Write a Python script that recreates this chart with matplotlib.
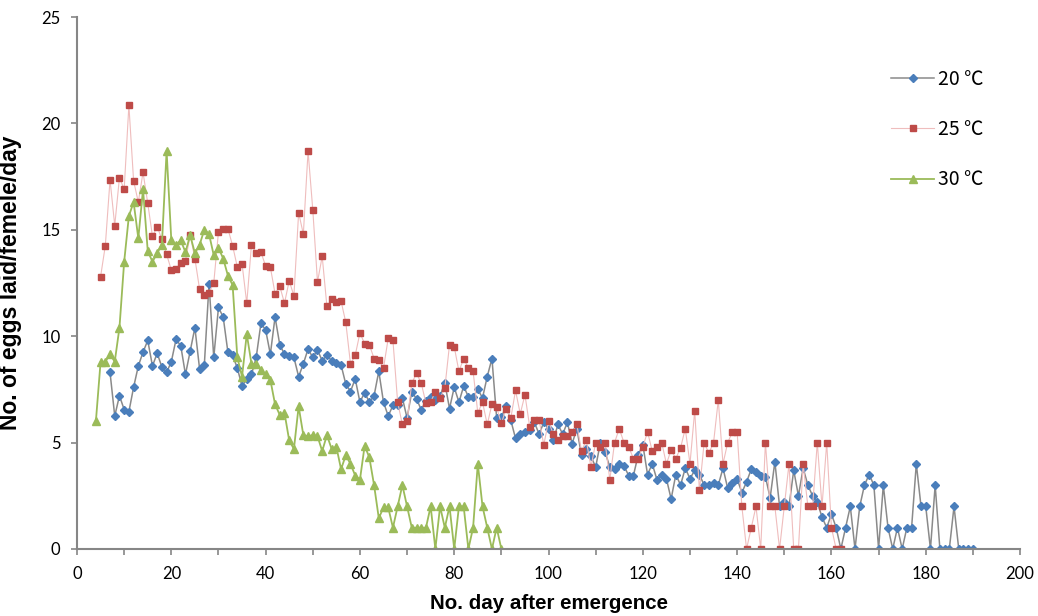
import numpy as np
import matplotlib
matplotlib.use('agg')
import matplotlib.pyplot as plt

# daily egg counts, one value per day starting at the first day listed
start_20 = 7
eggs_20 = [8.3, 6.25, 7.2, 6.55, 6.45, 7.6, 8.6, 9.25, 9.8, 8.6,
           9.2, 8.55, 8.3, 8.8, 9.85, 9.55, 8.2, 9.3, 10.4, 8.45,
           8.65, 12.45, 9.0, 11.35, 10.9, 9.25, 9.1, 8.5, 7.65, 8.0,
           8.2, 9.0, 10.6, 10.3, 9.15, 10.9, 9.6, 9.15, 9.05, 9.0,
           8.1, 8.7, 9.4, 9.0, 9.35, 8.85, 9.1, 8.85, 8.75, 8.65,
           7.75, 7.4, 8.0, 6.9, 7.35, 6.9, 7.2, 8.35, 6.9, 6.25,
           6.75, 6.75, 7.1, 6.15, 7.4, 7.05, 6.55, 6.95, 7.15, 7.0,
           7.2, 7.8, 6.6, 7.6, 6.9, 7.65, 7.15, 7.15, 7.5, 7.1,
           8.1, 8.95, 6.15, 6.2, 6.7, 6.05, 5.2, 5.4, 5.5, 5.6,
           5.95, 5.4, 5.95, 5.65, 5.1, 5.85, 5.4, 5.95, 4.95, 5.65,
           4.4, 4.7, 4.35, 3.85, 5.0, 4.55, 3.85, 3.75, 4.0, 3.9,
           3.45, 3.45, 4.4, 4.9, 3.5, 4.0, 3.25, 3.5, 3.3, 2.35,
           3.5, 3.0, 3.8, 3.3, 3.7, 3.5, 3.0, 3.0, 3.1, 3.0,
           3.8, 2.85, 3.1, 3.3, 2.65, 3.15, 3.75, 3.6, 3.45, 3.4,
           2.4, 4.1, 2.0, 2.2, 2.0, 3.7, 2.5, 3.8, 3.0, 2.5,
           2.2, 1.5, 1.0, 1.65, 1.0, 0, 1.0, 2.0, 0, 2.0,
           3.0, 3.5, 3.0, 0, 3.0, 1.0, 0, 1.0, 0, 1.0,
           1.0, 4.0, 2.0, 2.0, 0, 3.0, 0, 0, 0, 2.0,
           0, 0, 0, 0]

start_25 = 5
eggs_25 = [12.8, 14.25, 17.35, 15.2, 17.45, 16.9, 20.85, 17.3, 16.3, 17.7,
           16.25, 14.7, 15.15, 14.55, 13.85, 13.1, 13.15, 13.45, 13.55, 14.75,
           13.65, 12.2, 11.95, 12.05, 12.5, 14.9, 15.05, 15.05, 14.25, 13.25,
           13.4, 11.55, 14.3, 13.9, 13.95, 13.3, 13.25, 12.0, 12.35, 11.55,
           12.6, 11.9, 15.8, 14.8, 18.7, 15.95, 12.55, 13.75, 11.4, 11.75,
           11.6, 11.65, 10.65, 8.7, 9.1, 10.15, 9.65, 9.6, 8.95, 8.9,
           8.5, 9.9, 9.8, 6.9, 5.85, 6.0, 7.8, 8.25, 7.8, 6.85,
           6.9, 7.4, 7.1, 7.55, 9.6, 9.5, 8.35, 8.95, 8.5, 8.35,
           6.4, 6.9, 5.85, 6.8, 6.65, 5.9, 6.6, 6.15, 7.45, 6.35,
           7.25, 5.75, 6.05, 6.05, 4.9, 6.0, 5.4, 5.1, 5.3, 5.3,
           5.5, 5.85, 4.6, 5.1, 3.85, 5.0, 4.8, 5.0, 3.25, 5.0,
           5.65, 5.0, 4.8, 4.25, 4.25, 4.8, 5.5, 4.6, 4.8, 5.0,
           4.0, 4.65, 4.25, 4.75, 5.65, 4.0, 6.5, 2.75, 5.0, 4.5,
           5.0, 7.0, 4.0, 5.0, 5.5, 5.5, 2.0, 0, 1.0, 2.0,
           0, 5.0, 2.0, 2.0, 0, 2.0, 4.0, 0, 0, 4.0,
           2.0, 2.0, 5.0, 2.0, 5.0, 1.0, 0, 0]

start_30 = 4
eggs_30 = [6.0, 8.8, 8.8, 9.15, 8.8, 10.4, 13.5, 15.65, 16.3, 14.6,
           16.9, 14.0, 13.5, 13.9, 14.3, 18.7, 14.5, 14.3, 14.5, 13.95,
           14.75, 13.9, 14.3, 15.0, 14.8, 13.8, 14.15, 13.65, 12.85, 12.4,
           9.0, 8.1, 10.1, 8.7, 8.7, 8.4, 8.2, 7.95, 6.8, 6.3,
           6.4, 5.1, 4.7, 6.7, 5.35, 5.3, 5.35, 5.3, 4.6, 5.35,
           4.7, 4.8, 3.75, 4.4, 4.0, 3.45, 3.25, 4.85, 4.3, 3.0,
           1.45, 1.95, 1.95, 1.0, 2.0, 3.0, 2.0, 1.0, 1.0, 1.0,
           1.0, 2.0, 0, 2.0, 1.0, 2.0, 0, 2.0, 2.0, 0,
           1.0, 4.0, 2.0, 1.0, 0, 1.0, 0]

days_20 = np.arange(start_20, start_20 + len(eggs_20))
days_25 = np.arange(start_25, start_25 + len(eggs_25))
days_30 = np.arange(start_30, start_30 + len(eggs_30))

fig = plt.figure(figsize=(10.38, 6.16), dpi=100)
ax = fig.add_axes([0.0742, 0.1088, 0.9085, 0.8636])

ax.plot(days_20, eggs_20, color='#8a8a8a', lw=1.1, marker='D', ms=4.3,
        mfc='#4a7ebb', mec='#4a7ebb', label='20 \u2103')
ax.plot(days_25, eggs_25, color='#efbdbd', lw=0.8, marker='s', ms=5,
        mfc='#be4b48', mec='#be4b48', label='25 \u2103')
ax.plot(days_30, eggs_30, color='#9bbb59', lw=1.3, marker='^', ms=5.5,
        mfc='#9bbb59', mec='#9bbb59', label='30 \u2103')

ax.set_xlim(0, 200)
ax.set_ylim(0, 25)
ax.set_xticks(np.arange(0, 201, 20))
ax.set_xticks(np.arange(0, 201, 10), minor=True)
ax.set_yticks(np.arange(0, 26, 5))

for side in ['top', 'right']:
    ax.spines[side].set_visible(False)
for side in ['left', 'bottom']:
    ax.spines[side].set_color('#868686')
    ax.spines[side].set_linewidth(1.5)

ax.tick_params(which='both', direction='out', color='#868686', width=1.2,
               length=4, labelsize=12, pad=8)
for lab in ax.get_xticklabels() + ax.get_yticklabels():
    lab.set_family('Lato')

ax.set_xlabel('No. day after emergence', fontsize=14.8, fontweight='bold',
              family='Liberation Sans', labelpad=9)
ax.set_ylabel('No. of eggs laid/femele/day', fontsize=16.5, fontweight='bold',
              family='Liberation Sans', labelpad=14)

leg = ax.legend(loc='upper left', bbox_to_anchor=(0.845, 0.935), frameon=False,
                handlelength=2.2, labelspacing=1.5, handletextpad=0.2,
                prop={'family': ['Noto Sans CJK KR', 'DejaVu Sans'], 'size': 14})

plt.savefig('out.png', dpi=100)
plt.close()
